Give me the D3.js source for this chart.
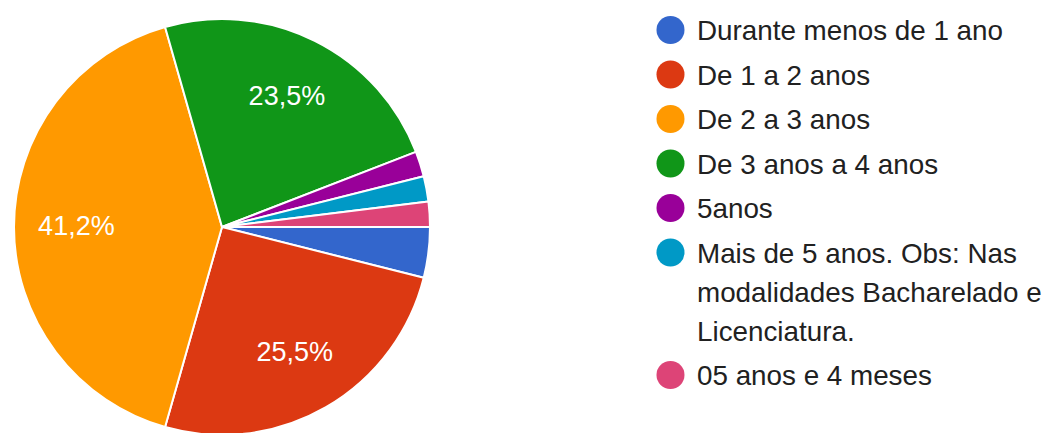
<!DOCTYPE html>
<html>
<head>
<meta charset="utf-8">
<script src="https://cdn.jsdelivr.net/npm/d3@7"></script>
<style>
  html, body { margin: 0; padding: 0; background: #ffffff; }
  svg { display: block; font-family: "Liberation Sans", Arial, sans-serif; }
</style>
</head>
<body>
<svg id="chart" width="1044" height="433"></svg>
<script>
// Survey answers: duration of the course
const categories = [
  "Durante menos de 1 ano",
  "De 1 a 2 anos",
  "De 2 a 3 anos",
  "De 3 anos a 4 anos",
  "5anos",
  "Mais de 5 anos. Obs: Nas modalidades Bacharelado e Licenciatura.",
  "05 anos e 4 meses"
];
const counts = [2, 13, 21, 12, 1, 1, 1];
const colors = ["#3366cc", "#dc3912", "#ff9900", "#109618", "#990099", "#0099c6", "#dd4477"];

const svg = d3.select("#chart");

// Pie geometry
const cx = 222, cy = 227, R = 208;
const total = d3.sum(counts);
const data = categories.map((c, i) => ({ label: c, value: counts[i], color: colors[i] }));

const pie = d3.pie()
  .sort(null)
  .value(d => d.value)
  .startAngle(Math.PI / 2)
  .endAngle(Math.PI / 2 + 2 * Math.PI);

const arc = d3.arc().innerRadius(0).outerRadius(R);
const labelArc = d3.arc().innerRadius(R * 0.70).outerRadius(R * 0.70);

const g = svg.append("g").attr("transform", `translate(${cx},${cy})`);
const arcs = pie(data);

g.selectAll("path.slice")
  .data(arcs)
  .join("path")
  .attr("class", "slice")
  .attr("d", arc)
  .attr("fill", d => d.data.color)
  .attr("stroke", "#ffffff")
  .attr("stroke-width", 2)
  .attr("stroke-linejoin", "round");

const fmt = v => (v / total * 100).toFixed(1).replace(".", ",") + "%";

g.selectAll("text.pct")
  .data(arcs.filter(d => d.data.value / total >= 0.05))
  .join("text")
  .attr("class", "pct")
  .attr("transform", d => `translate(${labelArc.centroid(d)})`)
  .attr("text-anchor", "middle")
  .attr("dy", "0.3em")
  .attr("fill", "#ffffff")
  .style("font-size", "27px")
  .text(d => fmt(d.data.value));

// Legend
const legX = 670.5, textX = 697, legY0 = 30;
const lineH = 39, itemGap = 5.5, maxW = 350;
const legend = svg.append("g").attr("class", "legend");

let y = legY0;
data.forEach(d => {
  const item = legend.append("g");
  item.append("circle")
    .attr("cx", legX).attr("cy", y).attr("r", 14)
    .attr("fill", d.color);
  const text = item.append("text")
    .attr("x", textX)
    .attr("fill", "#212121")
    .style("font-size", "27.8px");

  // word wrap within the available width
  const words = d.label.split(" ");
  let lines = [], cur = "";
  const probe = text.append("tspan");
  words.forEach(w => {
    const test = cur ? cur + " " + w : w;
    probe.text(test);
    if (probe.node().getComputedTextLength() > maxW && cur) {
      lines.push(cur);
      cur = w;
    } else {
      cur = test;
    }
  });
  lines.push(cur);
  probe.remove();

  lines.forEach((ln, i) => {
    text.append("tspan")
      .attr("x", textX)
      .attr("y", y + i * lineH)
      .attr("dy", "0.36em")
      .text(ln);
  });
  y += lines.length * lineH + itemGap;
});
</script>
</body>
</html>
